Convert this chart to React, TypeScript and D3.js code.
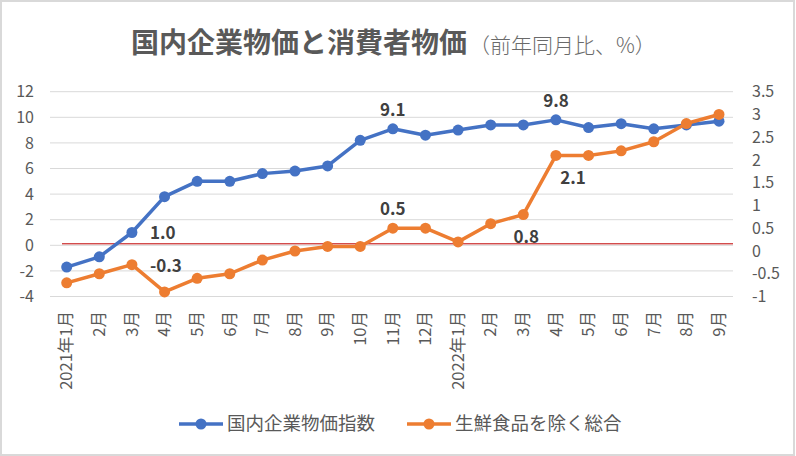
import * as d3 from 'd3';

const months = [
  '2021年1月', '2月', '3月', '4月', '5月', '6月', '7月', '8月', '9月', '10月', '11月', '12月',
  '2022年1月', '2月', '3月', '4月', '5月', '6月', '7月', '8月', '9月',
];
const ppi = [-1.7, -0.9, 1.0, 3.8, 5.0, 5.0, 5.6, 5.8, 6.2, 8.2, 9.1, 8.6, 9.0, 9.4, 9.4, 9.8, 9.2, 9.5, 9.1, 9.4, 9.7];
const cpi = [-0.7, -0.5, -0.3, -0.9, -0.6, -0.5, -0.2, 0.0, 0.1, 0.1, 0.5, 0.5, 0.2, 0.6, 0.8, 2.1, 2.1, 2.2, 2.4, 2.8, 3.0];
const leftTicks = [12, 10, 8, 6, 4, 2, 0, -2, -4];
const rightTicks = [3.5, 3, 2.5, 2, 1.5, 1, 0.5, 0, -0.5, -1];
const seriesNames = ['国内企業物価指数', '生鮮食品を除く総合'];
// which points carry a value label, and where it sits
const ppiLabels = [
  { i: 2, pos: 'right' },
  { i: 10, pos: 'above' },
  { i: 15, pos: 'above' },
];
const cpiLabels = [
  { i: 2, pos: 'right' },
  { i: 10, pos: 'above' },
  { i: 14, pos: 'below' },
  { i: 15, pos: 'belowRight' },
];

const BLUE = '#4472C4';
const ORANGE = '#ED7D31';
const TXT = '#595959';
const FONT = '"Noto Sans CJK JP", "Noto Sans", sans-serif';

export default function App() {
  const x = d3.scalePoint<number>().domain(d3.range(months.length)).range([66.7, 719]);
  const yL = d3.scaleLinear().domain([-4, 12]).range([296.5, 91.7]);
  const yR = d3.scaleLinear().domain([-1, 3.5]).range([296.5, 91.7]);

  const lineL = d3.line<number>().x((_, i) => x(i)!).y((d) => yL(d));
  const lineR = d3.line<number>().x((_, i) => x(i)!).y((d) => yR(d));

  const labelPos = (px: number, py: number, pos: string) => {
    if (pos === 'right') return { x: px + 18, y: py + 1, anchor: 'start' };
    if (pos === 'above') return { x: px, y: py - 19, anchor: 'middle' };
    if (pos === 'below') return { x: px + 3, y: py + 22, anchor: 'middle' };
    return { x: px + 17, y: py + 23, anchor: 'middle' };
  };

  return (
    <svg
      width={796}
      height={456}
      style={{ position: 'absolute', left: 0, top: 0, fontFamily: FONT }}
    >
      <rect x={0} y={0} width={796} height={456} fill="#fff" />
      <rect x={1} y={1} width={793} height={454} fill="none" stroke="#d9d9d9" strokeWidth={2} />

      <text x={131} y={53} fontSize={28} fontWeight="bold" fill={TXT}>
        国内企業物価と消費者物価
        <tspan fontSize={21} fontWeight="300" dx={2} fill="#6a6a6a">（前年同月比、%）</tspan>
      </text>

      {leftTicks.map((t) => (
        <g key={'g' + t}>
          <line x1={50} x2={733} y1={yL(t)} y2={yL(t)} stroke="#d9d9d9" strokeWidth={1} />
          <text x={34} y={yL(t)} dy="0.35em" textAnchor="end" fontSize={16} fill={TXT}>
            {t}
          </text>
        </g>
      ))}
      {rightTicks.map((t) => (
        <text key={'r' + t} x={752} y={yR(t)} dy="0.35em" fontSize={16} fill={TXT}>
          {t}
        </text>
      ))}

      <line x1={62} x2={733} y1={yL(0) - 1.5} y2={yL(0) - 1.5} stroke="#c00000" strokeWidth={1} />

      {months.map((m, i) => (
        <text
          key={'m' + i}
          transform={`translate(${x(i)},311) rotate(-90)`}
          textAnchor="end"
          dy="0.35em"
          fontSize={16.5}
          fill={TXT}
        >
          {m}
        </text>
      ))}

      <path d={lineL(ppi) || ''} fill="none" stroke={BLUE} strokeWidth={3.5} strokeLinejoin="round" />
      {ppi.map((d, i) => (
        <circle key={'pb' + i} cx={x(i)} cy={yL(d)} r={5.5} fill={BLUE} />
      ))}
      <path d={lineR(cpi) || ''} fill="none" stroke={ORANGE} strokeWidth={3.5} strokeLinejoin="round" />
      {cpi.map((d, i) => (
        <circle key={'po' + i} cx={x(i)} cy={yR(d)} r={5.5} fill={ORANGE} />
      ))}

      {ppiLabels.map((l) => {
        const p = labelPos(x(l.i)!, yL(ppi[l.i]), l.pos);
        return (
          <text key={'lb' + l.i} x={p.x} y={p.y} dy="0.35em" textAnchor={p.anchor} fontSize={17} fontWeight="bold" fill="#404040">
            {ppi[l.i].toFixed(1)}
          </text>
        );
      })}
      {cpiLabels.map((l) => {
        const p = labelPos(x(l.i)!, yR(cpi[l.i]), l.pos);
        return (
          <text key={'lo' + l.i} x={p.x} y={p.y} dy="0.35em" textAnchor={p.anchor} fontSize={17} fontWeight="bold" fill="#404040">
            {cpi[l.i].toFixed(1)}
          </text>
        );
      })}

      {seriesNames.map((name, k) => {
        const lx = k === 0 ? 179 : 407;
        const c = k === 0 ? BLUE : ORANGE;
        return (
          <g key={name}>
            <line x1={lx} x2={lx + 44} y1={424} y2={424} stroke={c} strokeWidth={3.5} />
            <circle cx={lx + 22} cy={424} r={5.5} fill={c} />
            <text x={lx + 48} y={424} dy="0.35em" fontSize={18.5} fill={TXT}>
              {name}
            </text>
          </g>
        );
      })}
    </svg>
  );
}
